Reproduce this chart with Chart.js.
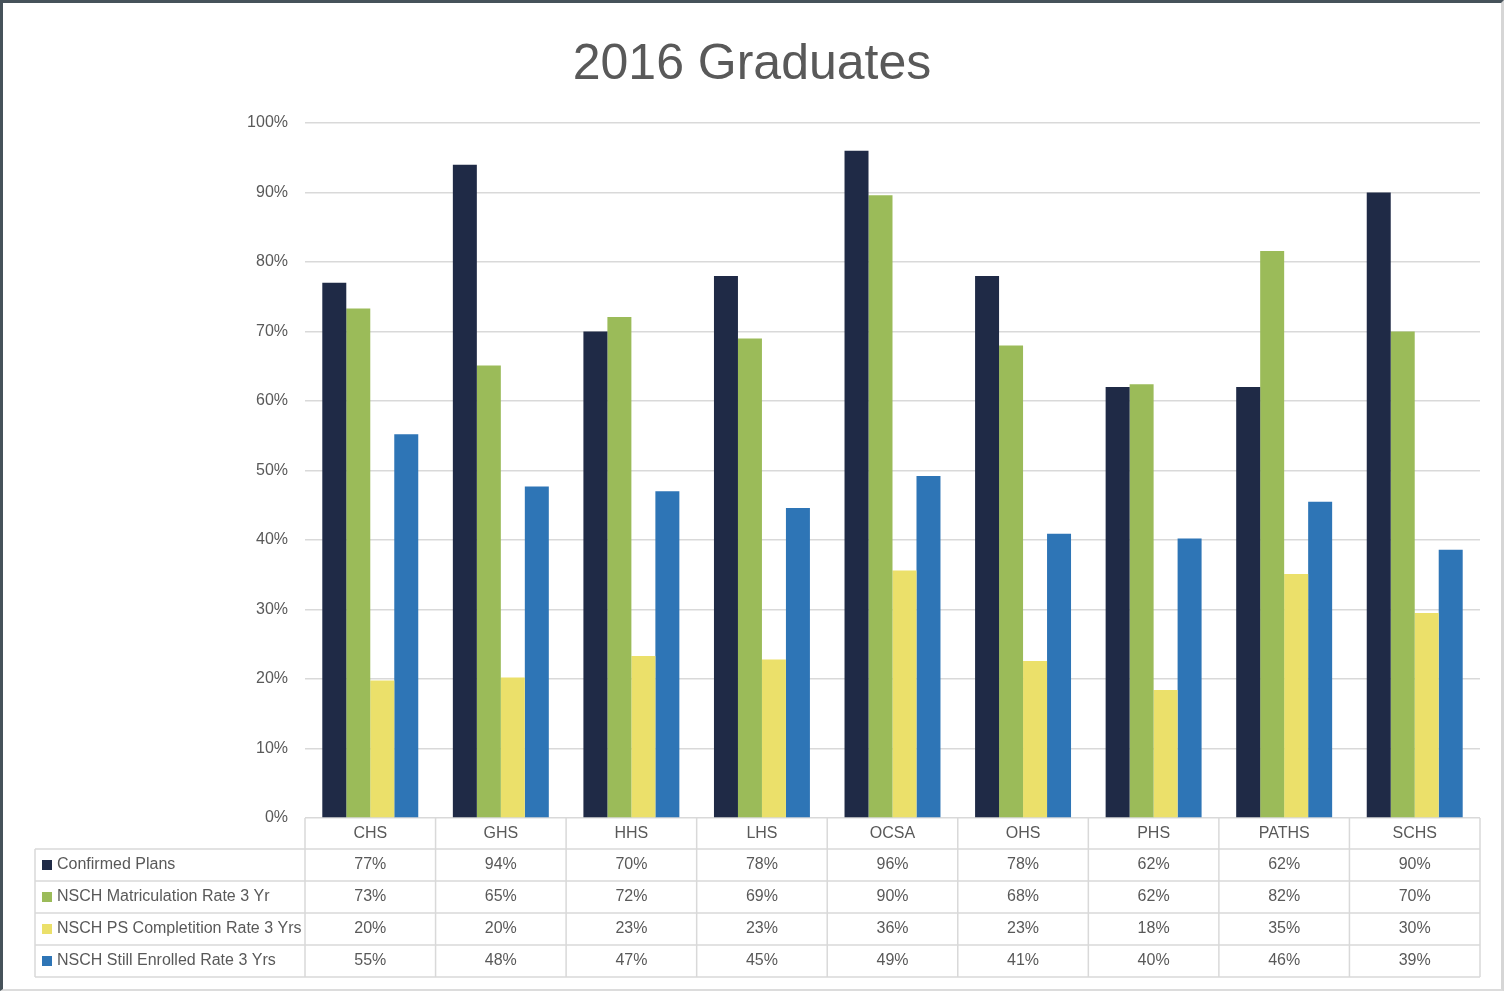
<!DOCTYPE html>
<html>
<head>
<meta charset="utf-8">
<script src="https://cdn.jsdelivr.net/npm/chart.js@4.4.1/dist/chart.umd.min.js"></script>
<style>
  body { margin: 0; background: #fff; }
  #wrap {
    position: relative;
    width: 1498px; height: 986px;
    border-top: 3px solid #46525a;
    border-left: 3px solid #46525a;
    border-right: 3px solid #d6d6d6;
    border-bottom: 2px solid #dcdcdc;
    background: #fff;
  }
  canvas { display: block; }
</style>
</head>
<body>
<div id="wrap"><canvas id="grads" width="1498" height="986"></canvas></div>
<script>
// schools along the x axis
const schools = ["CHS", "GHS", "HHS", "LHS", "OCSA", "OHS", "PHS", "PATHS", "SCHS"];

// series, in percent
const confirmedPlans = [77, 94, 70, 78, 96, 78, 62, 62, 90];
const matriculation = [73.3, 65.1, 72.1, 69.0, 89.6, 68.0, 62.4, 81.6, 70.0];
const psCompletion = [19.8, 20.2, 23.3, 22.8, 35.6, 22.6, 18.4, 35.1, 29.5];
const stillEnrolled = [55.2, 47.7, 47.0, 44.6, 49.2, 40.9, 40.2, 45.5, 38.6];

const seriesNames = [
    "Confirmed Plans",
    "NSCH Matriculation Rate 3 Yr",
    "NSCH PS Completition Rate 3 Yrs",
    "NSCH Still Enrolled Rate 3 Yrs"
];
const seriesColors = ["#1f2a46", "#9bbb59", "#ebe06a", "#2e75b6"];

const yTicks = [0, 10, 20, 30, 40, 50, 60, 70, 80, 90, 100];

const textFont = "'Liberation Sans Narrow', 'Liberation Sans', sans-serif";
const textColor = "#595959";
const lineColor = "#d9d9d9";

// draws the excel style data table under the plot, using the x scale
const dataTable = {
    id: 'dataTable',
    afterDraw(chart) {
        const ctx = chart.ctx;
        const x = chart.scales.x;
        const area = chart.chartArea;
        const step = x.width / schools.length;
        const headTop = area.bottom;
        const headBottom = headTop + 31;
        const rowH = 32;
        const tableBottom = headBottom + rowH * seriesNames.length;
        const legendLeft = 32;

        ctx.save();
        ctx.strokeStyle = lineColor;
        ctx.lineWidth = 1.5;
        ctx.beginPath();
        // horizontal lines
        for (let k = 0; k <= seriesNames.length; k++) {
            const y = headBottom + k * rowH;
            ctx.moveTo(legendLeft, y);
            ctx.lineTo(x.right, y);
        }
        // vertical lines
        for (let i = 0; i <= schools.length; i++) {
            const bx = x.getPixelForTick(Math.min(i, schools.length - 1)) + (i < schools.length ? -step / 2 : step / 2);
            ctx.moveTo(bx, headTop);
            ctx.lineTo(bx, tableBottom);
        }
        ctx.moveTo(legendLeft, headBottom);
        ctx.lineTo(legendLeft, tableBottom);
        ctx.stroke();

        ctx.font = "16px " + textFont;
        ctx.fillStyle = textColor;
        ctx.textBaseline = 'middle';
        ctx.textAlign = 'center';
        schools.forEach((s, i) => {
            ctx.fillText(s, x.getPixelForTick(i), (headTop + headBottom) / 2);
        });

        chart.data.datasets.forEach((ds, k) => {
            const cy = headBottom + k * rowH + rowH / 2;
            ctx.fillStyle = ds.backgroundColor;
            ctx.fillRect(legendLeft + 7, cy - 5, 10, 10);
            ctx.fillStyle = textColor;
            ctx.textAlign = 'left';
            ctx.fillText(ds.label, legendLeft + 22, cy);
            ctx.textAlign = 'center';
            ds.data.forEach((v, i) => {
                ctx.fillText(Math.round(v) + "%", x.getPixelForTick(i), cy);
            });
        });
        ctx.restore();
    }
};

function createGraduatesChart(){
    const canvas = document.querySelector('#grads');
    const allSeries = [confirmedPlans, matriculation, psCompletion, stillEnrolled];
    let options = {
        type: 'bar',
        data: {
            labels: schools,
            datasets: allSeries.map((vals, k) => ({
                label: seriesNames[k],
                data: vals,
                backgroundColor: seriesColors[k],
                barPercentage: 1.0,
                categoryPercentage: 0.735,
            })),
        },
        options: {
            responsive: false,
            animation: false,
            layout: {
                padding: { left: 0, right: 0, top: 0, bottom: 171 }
            },
            scales: {
                x: {
                    display: false,
                },
                y: {
                    min: 0,
                    max: 100,
                    afterBuildTicks: (s) => { s.ticks = yTicks.map(v => ({ value: v })); },
                    afterFit: (s) => { s.width = 302; },
                    border: { display: false },
                    grid: {
                        color: lineColor,
                        lineWidth: 1.5,
                        drawTicks: false,
                    },
                    ticks: {
                        padding: 17,
                        color: textColor,
                        font: { family: textFont, size: 16 },
                        callback: (v) => v + '%',
                    },
                },
                // empty right axis, only keeps a margin on the right side
                yRight: {
                    position: 'right',
                    min: 0,
                    max: 100,
                    afterFit: (s) => { s.width = 21; },
                    border: { display: false },
                    grid: { display: false },
                    ticks: { display: false },
                },
            },
            plugins: {
                title: {
                    display: true,
                    text: "2016 Graduates",
                    color: textColor,
                    font: { family: "'Liberation Sans', sans-serif", size: 50, weight: 'normal' },
                    padding: { top: 32, bottom: 28 },
                },
                legend: {
                    display: false,
                },
                tooltip: { enabled: false },
            },
        },
        plugins: [dataTable],
    };
    const chart = new Chart(canvas.getContext("2d"), options);
}

createGraduatesChart();
</script>
</body>
</html>
